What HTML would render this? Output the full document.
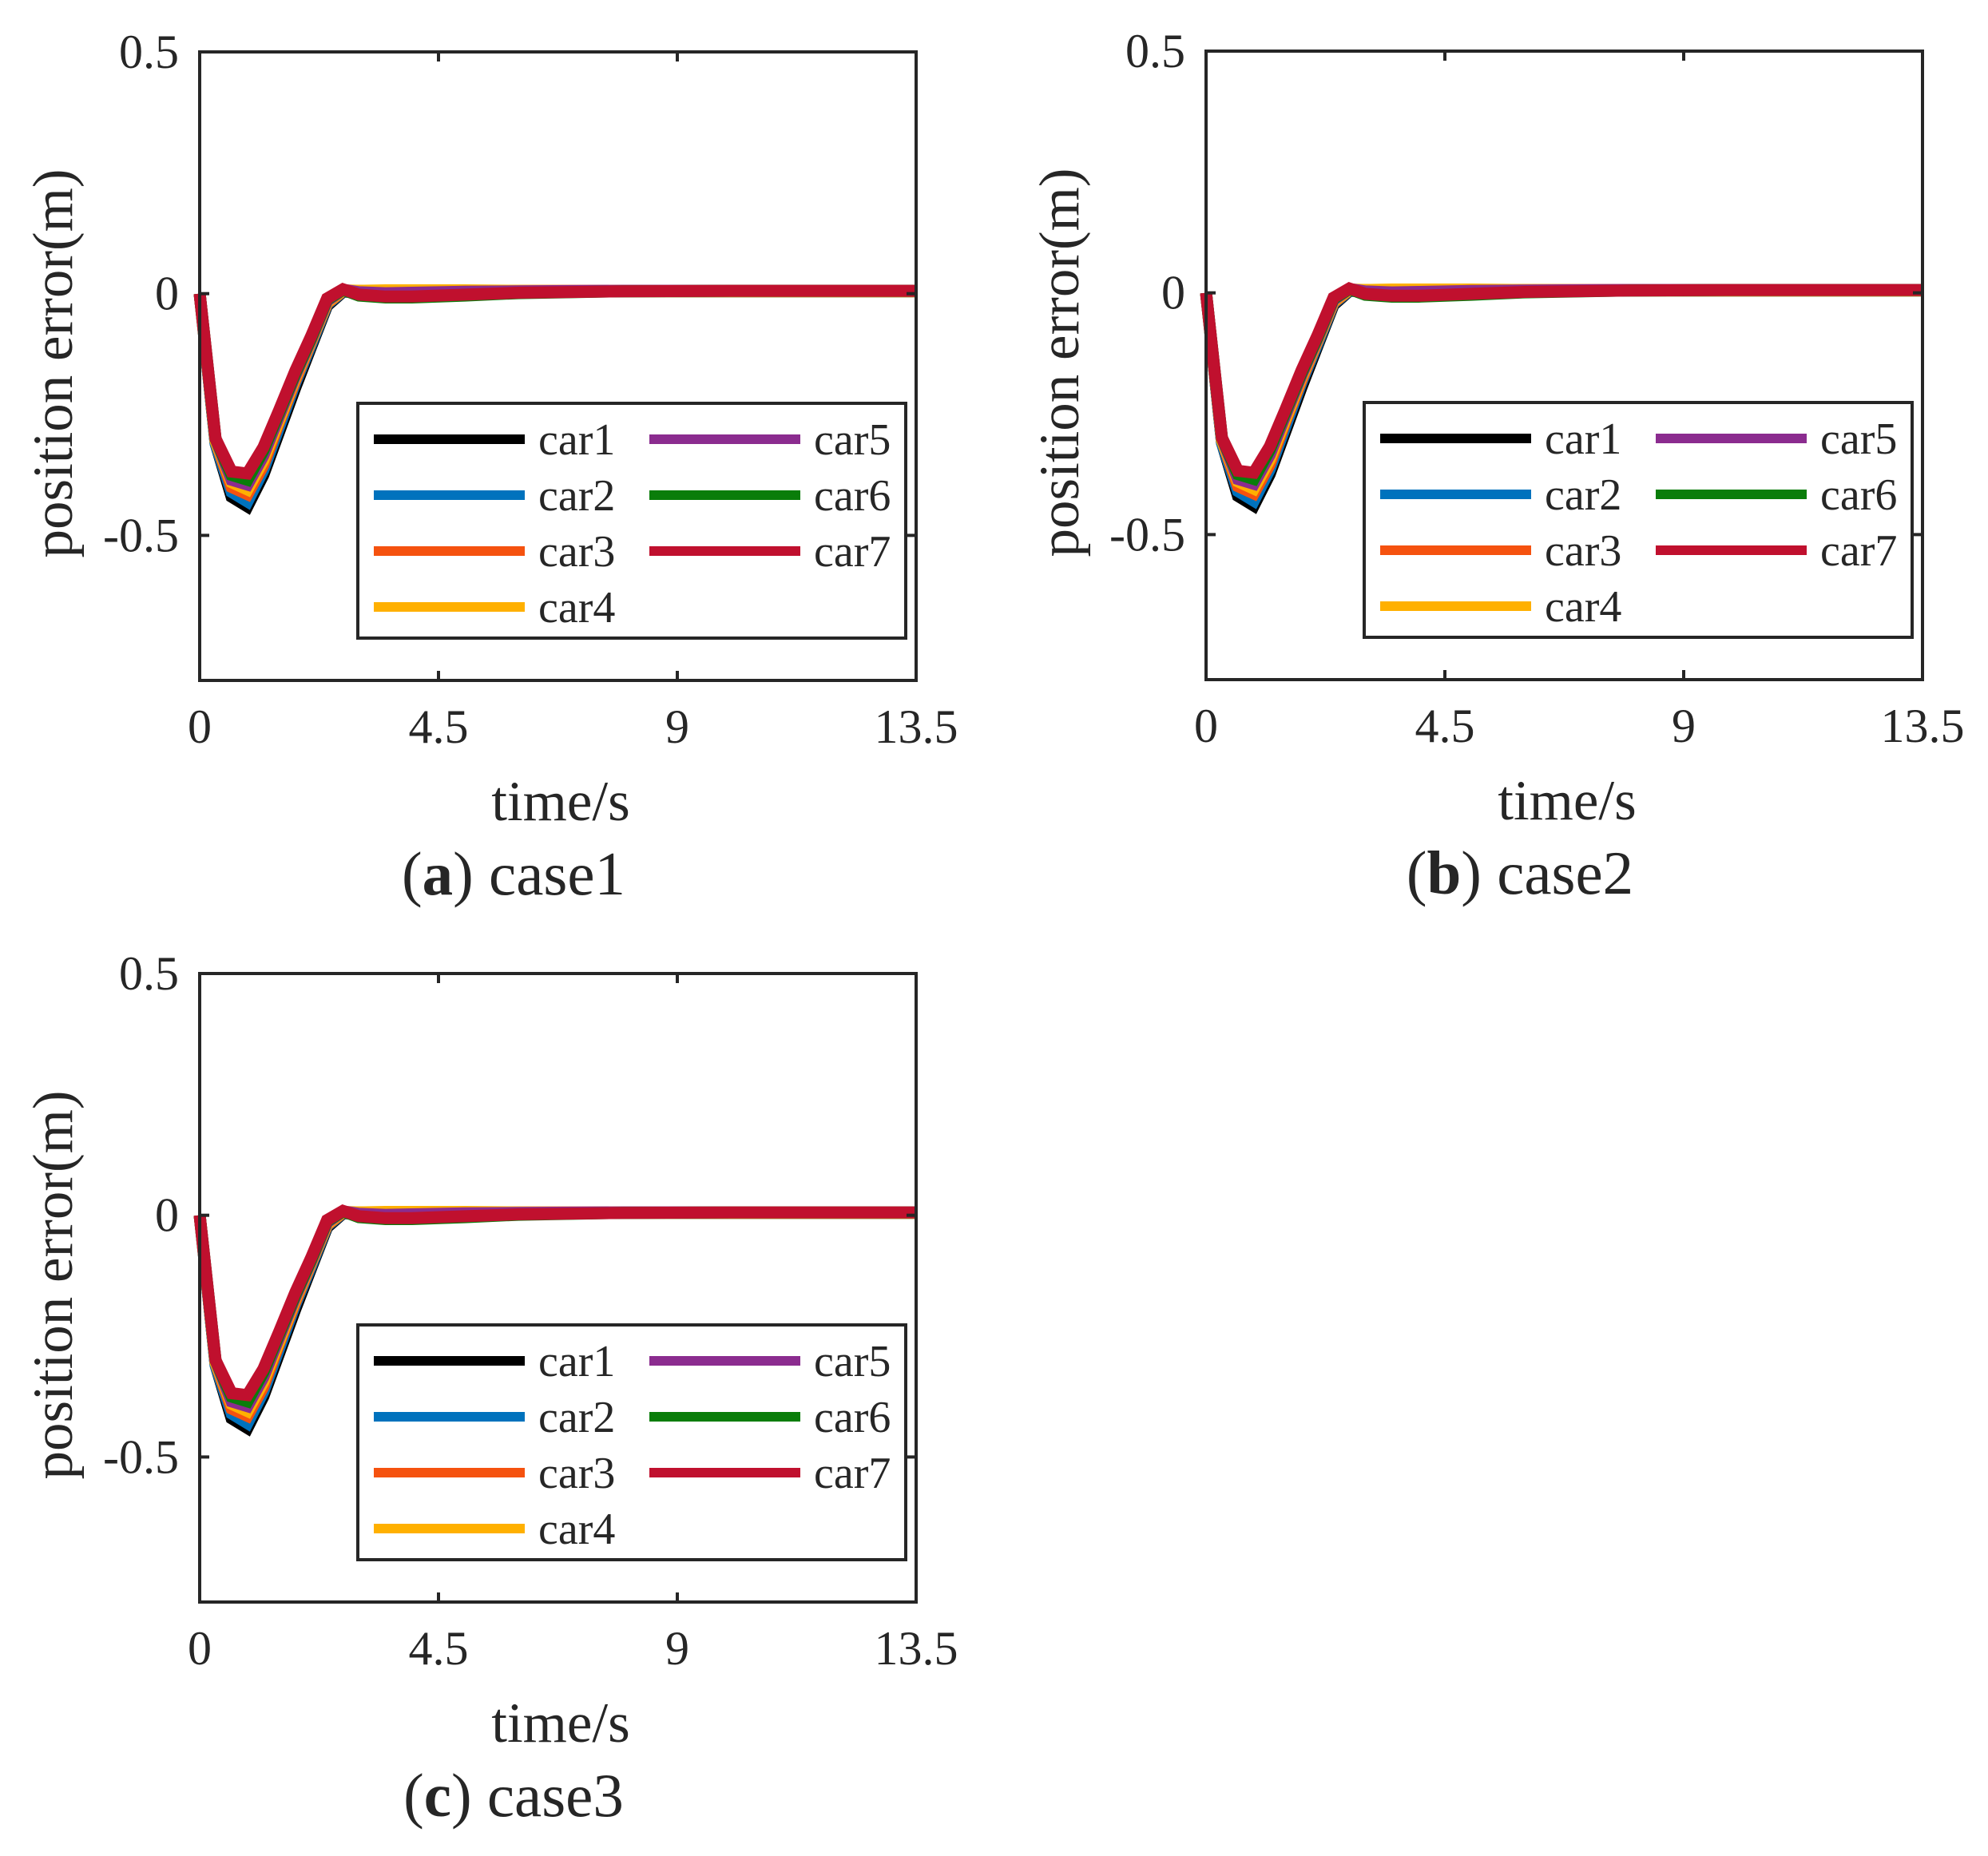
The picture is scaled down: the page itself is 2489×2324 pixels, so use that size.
<!DOCTYPE html>
<html><head><meta charset="utf-8"><style>
html,body{margin:0;padding:0;background:#fff;}
svg{display:block;}
text{font-family:"Liberation Serif",serif;fill:#262626;}
</style></head><body>
<svg id="fig" width="2489" height="2324" viewBox="0 0 2489 2324" xmlns="http://www.w3.org/2000/svg"></svg>
<script>
const times=[0,0.3,0.6,0.9,1.2,1.5,1.8,2.1,2.4,2.7,3.0,3.5,4,5,6,8,10,13.5];
const car1=[0,-0.31,-0.42,-0.44,-0.375,-0.285,-0.195,-0.11,-0.025,0.004,0.004,0.002,0.0,0.001,0.003,0.005,0.005,0.005];
const car2=[0,-0.31,-0.41,-0.43,-0.365,-0.275,-0.185,-0.105,-0.022,0.005,0.004,0.002,0.001,0.002,0.003,0.005,0.005,0.005];
const car3=[0,-0.305,-0.4,-0.415,-0.355,-0.265,-0.18,-0.1,-0.02,0.006,0.006,0.006,0.006,0.006,0.006,0.006,0.006,0.006];
const car4=[0,-0.305,-0.39,-0.405,-0.345,-0.26,-0.175,-0.098,-0.018,0.007,0.006,0.007,0.007,0.007,0.006,0.005,0.005,0.005];
const car5=[0,-0.3,-0.385,-0.395,-0.335,-0.252,-0.17,-0.095,-0.015,0.008,0.003,0.001,0.002,0.004,0.005,0.006,0.006,0.006];
const car6=[0,-0.3,-0.375,-0.385,-0.325,-0.245,-0.165,-0.092,-0.012,0.008,-0.004,-0.008,-0.008,-0.004,0.001,0.005,0.006,0.006];
const car7=[0,-0.3,-0.368,-0.372,-0.318,-0.24,-0.16,-0.088,-0.01,0.009,-0.002,-0.006,-0.006,-0.002,0.002,0.005,0.006,0.006];
const seriesNames=["car1","car2","car3","car4","car5","car6","car7"];
const seriesData=[car1,car2,car3,car4,car5,car6,car7];
const colors=["#000000","#0072bd","#f5520f","#ffb000","#8b2c8f","#0a7d0a","#c0102e"];
const xTicks=[0,4.5,9,13.5];
const xTickLabels=["0","4.5","9","13.5"];
const yTicks=[0.5,0,-0.5];
const yTickLabels=["0.5","0","-0.5"];
const captions=[["a","case1"],["b","case2"],["c","case3"]];

const NS="http://www.w3.org/2000/svg";
const svg=document.getElementById('fig');
function mk(tag,attrs,parent){const e=document.createElementNS(NS,tag);for(const k in attrs)e.setAttribute(k,attrs[k]);(parent||svg).appendChild(e);return e;}
const panels=[{x:250,y:65},{x:1510,y:64},{x:250,y:1219}];
const W=897,H=787,xmin=0,xmax=13.5,ymin=-0.8,ymax=0.5;
panels.forEach((p,pi)=>{
  const g=mk('g',{});
  
  
  const sx=v=>p.x+(v-xmin)/(xmax-xmin)*W;
  const sy=v=>p.y+(ymax-v)/(ymax-ymin)*H;
  const sg=mk('g',{},g);
  
  
  seriesData.forEach((d,si)=>{
    const pts=times.map((t,i)=>sx(t).toFixed(1)+','+sy(d[i]).toFixed(1)).join(' ');
    const pl=mk('polyline',{points:pts,fill:'none',stroke:colors[si],'stroke-width':15,'stroke-linejoin':'miter'},sg);
    
    
  });
  const box=mk('rect',{x:p.x,y:p.y,width:W,height:H,fill:'none',stroke:'#262626','stroke-width':4},g);
  
  
  xTicks.forEach((t,i)=>{
    const x=sx(t);
    mk('line',{x1:x,y1:p.y+H,x2:x,y2:p.y+H-12,stroke:'#262626','stroke-width':4},g);
    mk('line',{x1:x,y1:p.y,x2:x,y2:p.y+12,stroke:'#262626','stroke-width':4},g);
    const tx=mk('text',{x:x,y:p.y+H+78,'font-size':60,'text-anchor':'middle'},g);
    tx.textContent=xTickLabels[i];
    
    
  });
  yTicks.forEach((t,i)=>{
    const y=sy(t);
    mk('line',{x1:p.x,y1:y,x2:p.x+12,y2:y,stroke:'#262626','stroke-width':4},g);
    mk('line',{x1:p.x+W,y1:y,x2:p.x+W-12,y2:y,stroke:'#262626','stroke-width':4},g);
    const tx=mk('text',{x:p.x-26,y:y+20,'font-size':60,'text-anchor':'end'},g);
    tx.textContent=yTickLabels[i];
    
    
  });
  const xl=mk('text',{x:p.x+452,y:p.y+H+175,'font-size':71,'text-anchor':'middle'},g);
  xl.textContent='time/s';
  
  
  const yl=mk('text',{x:0,y:0,'font-size':71,'text-anchor':'middle',transform:`translate(${p.x-160},${p.y+390}) rotate(-90)`},g);
  yl.textContent='position error(m)';
  
  
  const cap=mk('text',{x:p.x+393,y:p.y+H+268,'font-size':77,'text-anchor':'middle'},g);
  const t1=mk('tspan',{},cap);t1.textContent='(';
  const t2=mk('tspan',{'font-weight':'bold'},cap);t2.textContent=captions[pi][0];
  const t3=mk('tspan',{},cap);t3.textContent=') '+captions[pi][1];
  
  
  const lg=mk('g',{},g);
  
  
  const lx=p.x+198,ly=p.y+440;
  mk('rect',{x:lx,y:ly,width:686,height:294,fill:'#fff',stroke:'#262626','stroke-width':4},lg);
  seriesNames.forEach((n,si)=>{
    const col=si<4?0:1,row=si<4?si:si-4;
    const x0=lx+20+col*345,y0=ly+45+row*70;
    const e=mk('g',{},lg);
    
    
    mk('line',{x1:x0,y1:y0,x2:x0+189,y2:y0,stroke:colors[si],'stroke-width':12},e);
    const t=mk('text',{x:x0+206,y:y0+19,'font-size':56},e);
    t.textContent=n;
  });
});
</script>
</body></html>
